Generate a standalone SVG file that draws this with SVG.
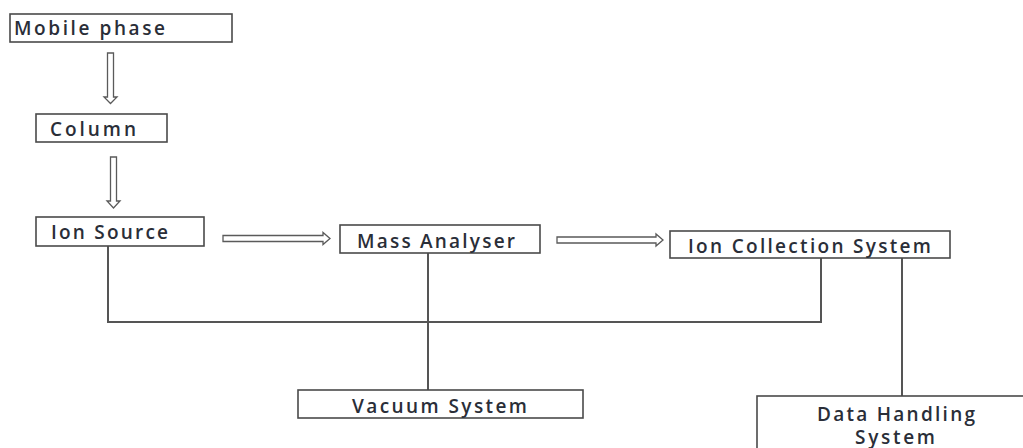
<svg xmlns="http://www.w3.org/2000/svg" width="1023" height="448" viewBox="0 0 1023 448">
  <style>
    .box { fill: #ffffff; stroke: #4a4a4a; stroke-width: 1.6; }
    .lbl { font-family: "Open Sans", "Noto Sans", sans-serif; font-size: 19px; font-weight: 600; fill: #2a2e38; }
    .wire { fill: none; stroke: #555555; stroke-width: 2; }
    .flow { fill: #ffffff; stroke: #5a5a5a; stroke-width: 1.3; stroke-linejoin: miter; }
  </style>
  <rect width="1023" height="448" fill="#ffffff"/>

  <!-- connectors: hollow flow arrows and system links -->
  <g id="connectors">
    <!-- Mobile phase to Column -->
    <polygon class="flow" points="107.5,53 113.5,53 113.5,97 117,97 110.5,103.5 104,97 107.5,97"/>
    <!-- Column to Ion Source -->
    <polygon class="flow" points="110.5,157 116.5,157 116.5,201 120,201 113.5,208 107,201 110.5,201"/>
    <!-- Ion Source to Mass Analyser -->
    <polygon class="flow" points="223,235.5 323,235.5 323,232.5 330,238.5 323,244.5 323,241.5 223,241.5"/>
    <!-- Mass Analyser to Ion Collection System -->
    <polygon class="flow" points="557,237 656,237 656,234 663,240 656,246 656,243 557,243"/>
    <!-- shared vacuum manifold -->
    <polyline class="wire" points="108,246 108,322 821,322 821,258"/>
    <line class="wire" x1="428" y1="253" x2="428" y2="390"/>
    <!-- Ion Collection System to Data Handling -->
    <line class="wire" x1="902" y1="258" x2="902" y2="396"/>
  </g>

  <g id="mobile-phase">
    <rect class="box" x="10" y="14" width="222" height="28"/>
    <text class="lbl" x="14" y="34.5" textLength="151" lengthAdjust="spacing">Mobile phase</text>
  </g>

  <g id="column">
    <rect class="box" x="36" y="114" width="131" height="28"/>
    <text class="lbl" x="50" y="135.5" textLength="86" lengthAdjust="spacing">Column</text>
  </g>

  <g id="ion-source">
    <rect class="box" x="36" y="217" width="168" height="29"/>
    <text class="lbl" x="51" y="238.5" textLength="117" lengthAdjust="spacing">Ion Source</text>
  </g>

  <g id="mass-analyser">
    <rect class="box" x="340" y="225" width="200" height="28"/>
    <text class="lbl" x="357" y="247.5" textLength="158" lengthAdjust="spacing">Mass Analyser</text>
  </g>

  <g id="ion-collection">
    <rect class="box" x="670" y="231" width="280" height="27"/>
    <text class="lbl" x="688" y="252.5" textLength="243" lengthAdjust="spacing">Ion Collection System</text>
  </g>

  <g id="vacuum-system">
    <rect class="box" x="298" y="390" width="285" height="28"/>
    <text class="lbl" x="352" y="412.5" textLength="175" lengthAdjust="spacing">Vacuum System</text>
  </g>

  <g id="data-handling">
    <rect class="box" x="757" y="396" width="280" height="70"/>
    <text class="lbl" x="817" y="420.5" textLength="158" lengthAdjust="spacing">Data Handling</text>
    <text class="lbl" x="855" y="444" textLength="80" lengthAdjust="spacing">System</text>
  </g>
</svg>
